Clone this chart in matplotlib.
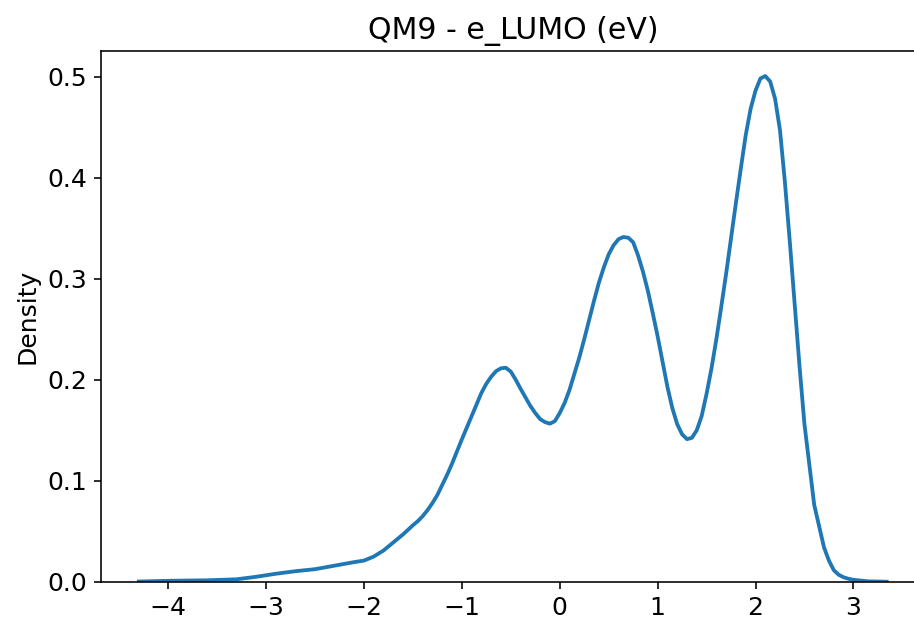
import matplotlib
matplotlib.use('Agg')
import matplotlib.pyplot as plt

# kernel density of e_LUMO values (eV), sampled along the curve
lumo_ev = [-4.30, -4.0, -3.6, -3.3, -3.1, -2.9, -2.7, -2.5, -2.3, -2.1, -2.0,
           -1.9, -1.8, -1.7, -1.6, -1.5, -1.45, -1.4, -1.35, -1.3, -1.25,
           -1.2, -1.15, -1.1, -1.05, -1.0, -0.9, -0.8, -0.75, -0.7, -0.65,
           -0.6, -0.55, -0.5, -0.45, -0.4, -0.3, -0.25, -0.2, -0.15, -0.1,
           -0.05, 0.0, 0.05, 0.1, 0.2, 0.25, 0.3, 0.35, 0.4, 0.45, 0.5, 0.55,
           0.6, 0.65, 0.7, 0.75, 0.8, 0.85, 0.9, 0.95, 1.0, 1.05, 1.1, 1.15,
           1.2, 1.25, 1.3, 1.35, 1.4, 1.45, 1.5, 1.55, 1.6, 1.65, 1.7, 1.75,
           1.8, 1.85, 1.9, 1.95, 2.0, 2.05, 2.1, 2.15, 2.2, 2.25, 2.3, 2.35,
           2.4, 2.45, 2.5, 2.6, 2.7, 2.75, 2.8, 2.85, 2.9, 2.95, 3.0, 3.15,
           3.34]
density = [0.0003, 0.001, 0.0015, 0.0025, 0.005, 0.008, 0.0105, 0.0125, 0.016,
           0.0195, 0.021, 0.025, 0.031, 0.039, 0.047, 0.056, 0.060, 0.065,
           0.071, 0.078, 0.086, 0.096, 0.106, 0.117, 0.129, 0.141, 0.164,
           0.187, 0.196, 0.203, 0.2085, 0.2113, 0.2118, 0.208, 0.200, 0.191,
           0.174, 0.167, 0.161, 0.158, 0.1565, 0.159, 0.167, 0.177, 0.190,
           0.222, 0.240, 0.259, 0.278, 0.296, 0.311, 0.324, 0.333, 0.339,
           0.3412, 0.3405, 0.336, 0.323, 0.307, 0.288, 0.266, 0.243, 0.218,
           0.193, 0.172, 0.156, 0.146, 0.1412, 0.1425, 0.150, 0.164, 0.186,
           0.211, 0.240, 0.272, 0.305, 0.340, 0.375, 0.409, 0.442, 0.468,
           0.486, 0.498, 0.5005, 0.495, 0.478, 0.447, 0.396, 0.337, 0.275,
           0.213, 0.156, 0.076, 0.034, 0.021, 0.0115, 0.007, 0.0045, 0.003,
           0.002, 0.0005, 0.0001]

plt.rcParams['font.size'] = 12.5

fig = plt.figure(figsize=(914 / 144, 623 / 144), dpi=144)
ax = fig.add_axes([0.111, 0.0661, 0.900, 0.8525])

line, = ax.plot(lumo_ev, density, color='#1f77b4', lw=1.9)
line.sticky_edges.y.append(0)
ax.autoscale_view()

ax.set_title('QM9 - e_LUMO (eV)', fontsize=15)
ax.set_ylabel('Density')
ax.set_yticks([0.0, 0.1, 0.2, 0.3, 0.4, 0.5])

fig.savefig('out.png', dpi=144)
